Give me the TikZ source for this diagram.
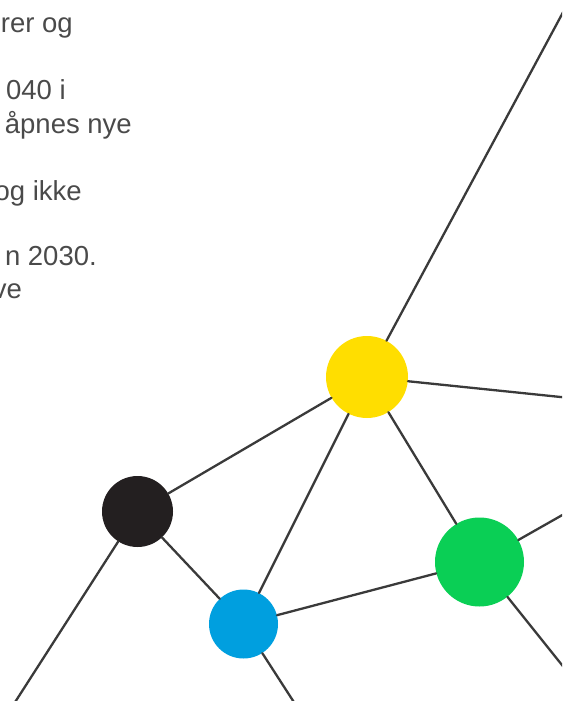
\documentclass[tikz,border=0pt]{standalone}
\usepackage{fontspec}
\setmainfont{Liberation Sans}
\definecolor{netline}{HTML}{3A3A3A}
\definecolor{bodytext}{HTML}{4A4A4A}
\definecolor{hubyellow}{HTML}{FFDE00}
\definecolor{hubblack}{HTML}{231F20}
\definecolor{hubblue}{HTML}{009FDF}
\definecolor{hubgreen}{HTML}{0ACF55}

\begin{document}
\begin{tikzpicture}[
  x=1pt,
  y=-1pt,
  line join=round,
  line cap=round,
  hub/.style={circle,inner sep=0pt,minimum size=#1},
  link/.style={draw=netline,line width=2.3pt},
  body/.style={anchor=base east,inner sep=0pt,text=bodytext,font=\fontsize{27.5}{33}\selectfont}
]
  \useasboundingbox (0,0) rectangle (562,701);
  \clip (0,0) rectangle (562,701);

  % Text column, cut off at the left edge.
  \node[body] (t1) at (73,33) {orer og};
  \node[body] (t2) at (66,99) {040 i};
  \node[body] (t3) at (132,133) {åpnes nye};
  \node[body] (t4) at (82,200) {og ikke};
  \node[body] (t5) at (97,265) {n 2030.};
  \node[body] (t6) at (22,298) {ve};

  % Network hubs.
  \node[hub=82pt,fill=hubyellow] (yellow) at (367,377) {};
  \node[hub=71pt,fill=hubblack] (black) at (137.5,511.5) {};
  \node[hub=69pt,fill=hubblue] (blue) at (243.5,624) {};
  \node[hub=89pt,fill=hubgreen] (green) at (479.5,562) {};

  % Loose ends leaving the frame.
  \coordinate (outNE) at (575,-10);
  \coordinate (outE) at (580,399);
  \coordinate (outSW) at (10,710);
  \coordinate (outS) at (299,710);
  \coordinate (outGE) at (580,505);
  \coordinate (outGSE) at (590,700);

  % Links stop at the hub borders.
  \draw[link] (yellow) -- (outNE);
  \draw[link] (yellow) -- (outE);
  \draw[link] (yellow) -- (black);
  \draw[link] (yellow) -- (blue);
  \draw[link] (yellow) -- (green);
  \draw[link] (black) -- (outSW);
  \draw[link] (black) -- (blue);
  \draw[link] (blue) -- (green);
  \draw[link] (blue) -- (outS);
  \draw[link] (green) -- (outGE);
  \draw[link] (green) -- (outGSE);
\end{tikzpicture}
\end{document}
